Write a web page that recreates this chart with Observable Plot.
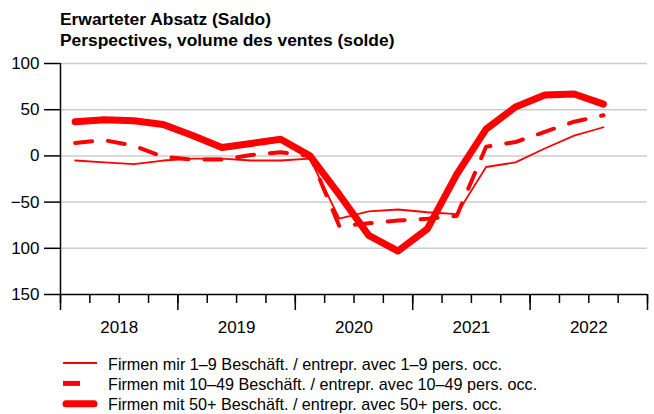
<!DOCTYPE html>
<html><head><meta charset="utf-8">
<script src="https://cdn.jsdelivr.net/npm/d3@7"></script>
<script src="https://cdn.jsdelivr.net/npm/@observablehq/plot@0.6"></script>
<style>
body{margin:0;background:#fff;font-family:"Liberation Sans",Arial,sans-serif;}
#wrap{position:relative;width:654px;height:414px;overflow:hidden;background:#fff;}
#title{position:absolute;left:60px;top:9px;font-weight:bold;font-size:17.4px;line-height:21px;color:#000;white-space:nowrap;}
#chart{position:absolute;left:0;top:50px;}
#legend{position:absolute;left:0;top:340px;}
</style></head><body>
<div id="wrap">
<div id="title">Erwarteter Absatz (Saldo)<br>Perspectives, volume des ventes (solde)</div>
<div id="chart"></div>
<div id="legend"></div>
</div>
<script>
const quarters = ["2018Q1","2018Q2","2018Q3","2018Q4","2019Q1","2019Q2","2019Q3","2019Q4",
  "2020Q1","2020Q2","2020Q3","2020Q4","2021Q1","2021Q2","2021Q3","2021Q4","2022Q1","2022Q2","2022Q3"];
const firms1to9   = [-5, -7, -9, -5, -3, -3, -5, -5, -3, -68, -60, -58, -61, -63, -12, -7, 8, 22, 31];
const firms10to49 = [14, 17, 11, -1, -4, -4, 1, 4, 0, -76, -73, -70, -68, -65, 10, 15, 26, 37, 44];
const firms50plus = [37, 39, 38, 34, 22, 9, 13.5, 18, 0, -42, -86, -103, -79, -20, 29, 53, 66, 67, 56];
const seriesLabels = [
  "Firmen mir 1\u20139 Besch\u00e4ft. / entrepr. avec 1\u20139 pers. occ.",
  "Firmen mit 10\u201349 Besch\u00e4ft. / entrepr. avec 10\u201349 pers. occ.",
  "Firmen mit 50+ Besch\u00e4ft. / entrepr. avec 50+ pers. occ."
];
const years = [2018, 2019, 2020, 2021, 2022];
const yTicks = [100, 50, 0, -50, -100, -150];
const yTickLabels = ["100", "50", "0", "\u221250", "100", "150"];

const qx = q => +q.slice(0, 4) + (+q.slice(5) - 0.5) / 4;
const mk = vals => quarters.map((q, i) => ({x: qx(q), y: vals[i]}));
const d1 = mk(firms1to9), d2 = mk(firms10to49), d3s = mk(firms50plus);

const yearBounds = [...years, years[years.length - 1] + 1];
const quarterTicks = d3.range(0, years.length * 4 + 1).map(i => years[0] + i / 4);
const yearMids = years.map(y => y + 0.5);

const red = "#ff0000";
const plot = Plot.plot({
  width: 654, height: 294,
  marginLeft: 60, marginRight: 7, marginTop: 13, marginBottom: 50,
  x: {domain: [years[0], years[years.length - 1] + 1]},
  y: {domain: [-150, 100]},
  style: {fontFamily: "Liberation Sans, Arial, sans-serif", fontSize: "17px", color: "#000", background: "#fff"},
  marks: [
    Plot.ruleY(yTicks.filter(d => d !== -150), {stroke: "#cccccc", strokeWidth: 1.5}),
    Plot.axisY({ticks: yTicks, tickSize: 16, tickPadding: 5, strokeWidth: 1.5, fontSize: 17,
      tickFormat: d => yTickLabels[yTicks.indexOf(d)], label: null}),
    Plot.ruleX([years[0]], {y1: -150, y2: 100, stroke: "#000", strokeWidth: 1.5}),
    Plot.ruleY([-150], {stroke: "#000", strokeWidth: 1.5}),
    Plot.axisX({ticks: yearBounds, tickSize: 16, strokeWidth: 1.5, tickFormat: () => "", label: null}),
    Plot.axisX({ticks: quarterTicks, tickSize: 9, strokeWidth: 1.5, tickFormat: () => "", label: null}),
    Plot.axisX({ticks: yearMids, tickSize: 0, tickPadding: 26, fontSize: 17, tickFormat: d => String(Math.floor(d)), label: null}),
    Plot.line(d1, {x: "x", y: "y", stroke: red, strokeWidth: 1.8, strokeLinejoin: "round"}),
    Plot.line(d2, {x: "x", y: "y", stroke: red, strokeWidth: 4, strokeDasharray: "17,16", strokeLinejoin: "round"}),
    Plot.line(d3s, {x: "x", y: "y", stroke: red, strokeWidth: 7, strokeLinecap: "round", strokeLinejoin: "round"})
  ]
});
document.getElementById("chart").appendChild(plot);

// legend
const lsvg = d3.select("#legend").append("svg").attr("width", 654).attr("height", 74)
  .style("font-family", "Liberation Sans, Arial, sans-serif");
const styles = [
  {w: 1.8, dash: null, cap: "butt", x1: 63, x2: 97},
  {w: 5, dash: "17,16", cap: "butt", x1: 63, x2: 96},
  {w: 7, dash: null, cap: "round", x1: 66, x2: 94}
];
seriesLabels.forEach((lab, i) => {
  const base = 29.5 + i * 20.4;
  const s = styles[i];
  const ln = lsvg.append("line").attr("x1", s.x1).attr("x2", s.x2)
    .attr("y1", base - 6.5).attr("y2", base - 6.5)
    .attr("stroke", red).attr("stroke-width", s.w).attr("stroke-linecap", s.cap);
  if (s.dash) ln.attr("stroke-dasharray", s.dash);
  lsvg.append("text").attr("x", 108).attr("y", base).attr("font-size", 16.2).attr("fill", "#000").text(lab);
});
</script>
</body></html>
